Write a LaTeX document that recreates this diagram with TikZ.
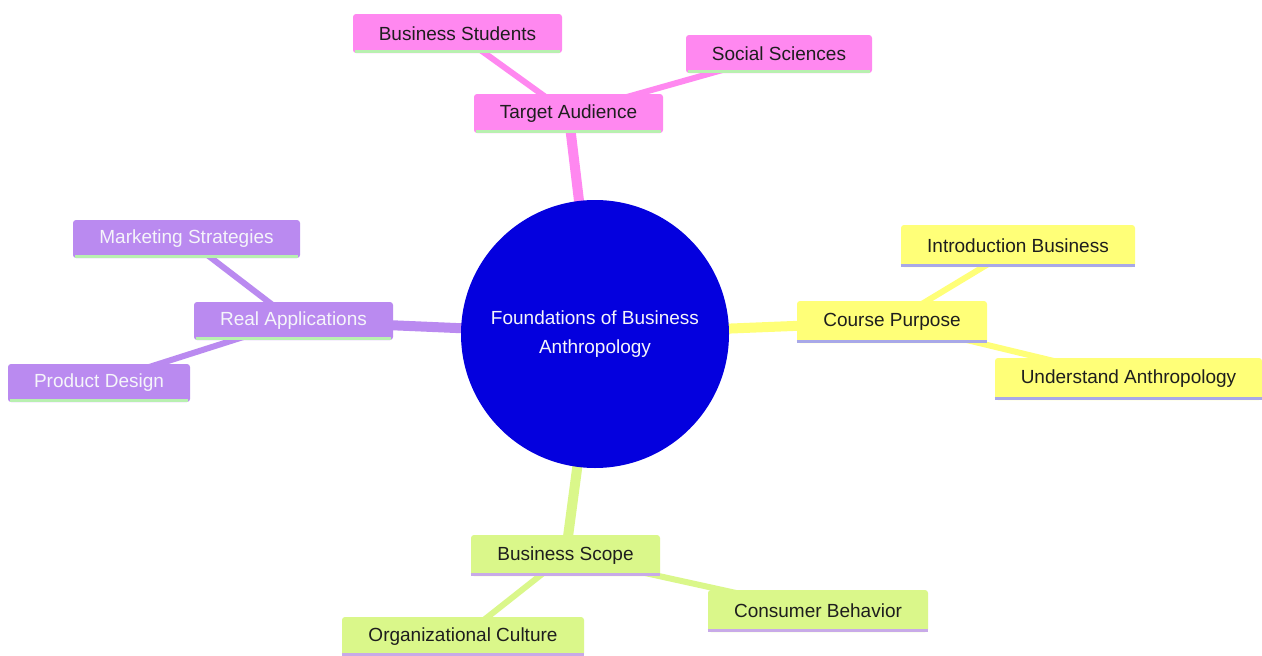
\documentclass[tikz,border=0pt]{standalone}
\usepackage{fontspec}
\setmainfont{Liberation Sans}
\usetikzlibrary{backgrounds}
\definecolor{rootblue}{RGB}{4,0,222}
\definecolor{pinkc}{RGB}{255,136,240}
\definecolor{purplec}{RGB}{186,138,240}
\definecolor{yellowc}{RGB}{255,255,120}
\definecolor{greenc}{RGB}{218,247,138}
\definecolor{lgreenline}{RGB}{184,240,176}
\definecolor{blueline}{RGB}{168,168,232}
\definecolor{lavline}{RGB}{200,170,232}
\definecolor{darktext}{RGB}{30,30,30}
\definecolor{lighttext}{RGB}{245,245,250}
\begin{document}
\begin{tikzpicture}[x=1pt,y=-1pt,
  box/.style={rectangle, rounded corners=3pt, inner sep=0pt, font=\fontsize{19}{23}\selectfont},
  pinkbox/.style={box, fill=pinkc, text=darktext},
  purplebox/.style={box, fill=purplec, text=lighttext},
  yellowbox/.style={box, fill=yellowc, text=darktext},
  greenbox/.style={box, fill=greenc, text=darktext},
  rootnode/.style={circle, fill=rootblue, text=lighttext, minimum size=268pt, inner sep=0pt, align=center, font=\fontsize{19}{29}\selectfont},
  mainedge/.style={line width=10pt},
  leafedge/.style={line width=6pt},
  underline/.style={line width=3pt}
]
\useasboundingbox (0,0) rectangle (1262,656);

\node[rootnode] (root) at (595,334) {Foundations of Business\\Anthropology};

\node[pinkbox, minimum width=189pt, minimum height=39pt] (ta) at (568.5,113.5) {Target Audience};
\node[pinkbox, minimum width=209pt, minimum height=39pt] (bs) at (457.5,33.5) {Business Students};
\node[pinkbox, minimum width=186pt, minimum height=38pt] (ss) at (779,54) {Social Sciences};

\node[purplebox, minimum width=199pt, minimum height=38pt] (ra) at (293.5,321) {Real Applications};
\node[purplebox, minimum width=227pt, minimum height=38pt] (ms) at (186.5,239) {Marketing Strategies};
\node[purplebox, minimum width=182pt, minimum height=38pt] (pd) at (99,383) {Product Design};

\node[yellowbox, minimum width=190pt, minimum height=42pt] (cp) at (892,322) {Course Purpose};
\node[yellowbox, minimum width=234pt, minimum height=42pt] (ib) at (1018,246) {Introduction Business};
\node[yellowbox, minimum width=267pt, minimum height=42pt] (ua) at (1128.5,379) {Understand Anthropology};

\node[greenbox, minimum width=189pt, minimum height=41pt] (bsc) at (565.5,555.5) {Business Scope};
\node[greenbox, minimum width=220pt, minimum height=42pt] (cb) at (818,611) {Consumer Behavior};
\node[greenbox, minimum width=242pt, minimum height=39pt] (oc) at (463,636.5) {Organizational Culture};

% bottom lines
\foreach \n in {ta,bs,ss,ra,ms,pd}
  \draw[underline, lgreenline] ([xshift=2pt,yshift=1.5pt]\n.south west) -- ([xshift=-2pt,yshift=1.5pt]\n.south east);
\foreach \n in {cp,ib,ua}
  \draw[underline, blueline] ([yshift=1.5pt]\n.south west) -- ([yshift=1.5pt]\n.south east);
\foreach \n in {bsc,cb,oc}
  \draw[underline, lavline] ([yshift=1.5pt]\n.south west) -- ([yshift=1.5pt]\n.south east);

\begin{pgfonlayer}{background}
\fill[white] (0,0) rectangle (1262,656);
\draw[mainedge, pinkc] (root.center) -- (ta.center);
\draw[leafedge, pinkc] (ta.center) -- (bs.center);
\draw[leafedge, pinkc] (ta.center) -- (ss.center);
\draw[mainedge, purplec] (root.center) -- (ra.center);
\draw[leafedge, purplec] (ra.center) -- (ms.center);
\draw[leafedge, purplec] (ra.center) -- (pd.center);
\draw[mainedge, yellowc] (root.center) -- (cp.center);
\draw[leafedge, yellowc] (cp.center) -- (ib.center);
\draw[leafedge, yellowc] (cp.center) -- (ua.center);
\draw[mainedge, greenc] (root.center) -- (bsc.center);
\draw[leafedge, greenc] (bsc.center) -- (cb.center);
\draw[leafedge, greenc] (bsc.center) -- (oc.center);
\end{pgfonlayer}
\end{tikzpicture}
\end{document}
